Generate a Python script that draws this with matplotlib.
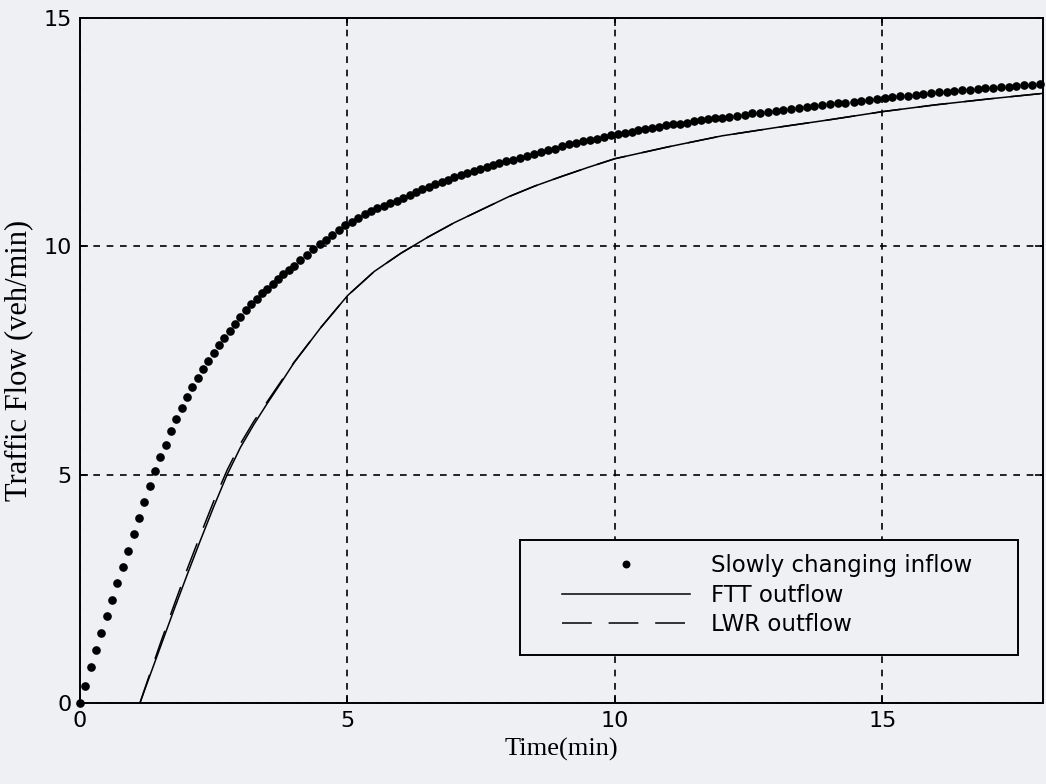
#!/usr/bin/env python3

import matplotlib
matplotlib.use('Agg')
import matplotlib.pyplot as plt
from matplotlib.patches import Rectangle

# Slowly changing inflow (dots).
inflow_time = [
    0.00, 0.10, 0.20, 0.30, 0.40, 0.50, 0.60, 0.70, 0.80, 0.90,
    1.00, 1.10, 1.20, 1.30, 1.40, 1.50, 1.60, 1.70, 1.80, 1.90,
    2.00, 2.10, 2.20, 2.30, 2.40, 2.50, 2.60, 2.70, 2.80, 2.90,
    3.00, 3.10, 3.20, 3.30, 3.40, 3.50, 3.60, 3.70, 3.80, 3.90,
    4.00,
    4.12, 4.24, 4.36, 4.48, 4.60, 4.72, 4.84, 4.96, 5.08, 5.20,
    5.32, 5.44, 5.56, 5.68, 5.80, 5.92, 6.04, 6.16, 6.28, 6.40,
    6.52, 6.64, 6.76, 6.88, 7.00, 7.12, 7.24, 7.36, 7.48, 7.60,
    7.72, 7.84, 7.96,
    8.10, 8.23, 8.36, 8.49, 8.62, 8.75, 8.88, 9.01, 9.14, 9.27,
    9.40, 9.53, 9.66, 9.79, 9.92, 10.05, 10.18, 10.31, 10.44, 10.57,
    10.70, 10.83, 10.96, 11.09, 11.22, 11.35, 11.48, 11.61, 11.74, 11.87,
    12.00,
    12.14, 12.28, 12.43, 12.57, 12.72, 12.86, 13.01, 13.15, 13.30, 13.44,
    13.59, 13.73, 13.88, 14.02, 14.17, 14.31, 14.46, 14.60, 14.75, 14.89,
    15.04, 15.18, 15.33, 15.47, 15.62, 15.76, 15.91, 16.05, 16.20, 16.34,
    16.49, 16.63, 16.78, 16.92, 17.07, 17.21, 17.36, 17.50, 17.65, 17.79,
    17.94,
]
inflow_flow = [
    0.00, 0.38, 0.78, 1.16, 1.54, 1.90, 2.26, 2.62, 2.97, 3.32,
    3.70, 4.05, 4.40, 4.76, 5.08, 5.38, 5.66, 5.95, 6.22, 6.47,
    6.70, 6.92, 7.12, 7.31, 7.49, 7.66, 7.83, 7.99, 8.15, 8.31,
    8.46, 8.60, 8.73, 8.85, 8.97, 9.07, 9.17, 9.28, 9.39, 9.48,
    9.58,
    9.70, 9.82, 9.94, 10.05, 10.15, 10.25, 10.36, 10.46, 10.54, 10.62,
    10.70, 10.77, 10.83, 10.89, 10.94, 10.99, 11.06, 11.13, 11.19, 11.25,
    11.31, 11.36, 11.41, 11.46, 11.51, 11.56, 11.60, 11.65, 11.70, 11.74,
    11.78, 11.82, 11.86,
    11.90, 11.94, 11.98, 12.02, 12.06, 12.10, 12.14, 12.19, 12.24, 12.27,
    12.30, 12.33, 12.36, 12.40, 12.43, 12.46, 12.49, 12.51, 12.54, 12.57,
    12.60, 12.62, 12.65, 12.67, 12.69, 12.71, 12.74, 12.76, 12.78, 12.80,
    12.82,
    12.84, 12.86, 12.88, 12.91, 12.93, 12.95, 12.97, 12.99, 13.01, 13.03,
    13.05, 13.07, 13.09, 13.11, 13.13, 13.15, 13.17, 13.19, 13.21, 13.23,
    13.25, 13.27, 13.29, 13.30, 13.32, 13.34, 13.35, 13.37, 13.39, 13.40,
    13.42, 13.43, 13.45, 13.46, 13.47, 13.49, 13.50, 13.51, 13.53, 13.54,
    13.55,
]

# Outflow curves (FTT solid, LWR dashed).
outflow_time = [1.12, 1.25, 1.50, 1.75, 2.00, 2.25, 2.50, 2.75, 3.00, 3.25,
                3.50, 3.75, 4.00, 4.50, 5.00, 5.50, 6.00, 6.50, 7.00, 7.50,
                8.00, 8.50, 9.00, 9.50, 10.00, 11.00, 12.00, 13.00, 14.00,
                15.00, 16.00, 17.00, 18.00]
ftt_flow = [0.00, 0.42, 1.22, 2.02, 2.80, 3.56, 4.30, 5.00, 5.60, 6.10,
            6.56, 7.00, 7.45, 8.22, 8.92, 9.45, 9.85, 10.20, 10.52, 10.80,
            11.08, 11.32, 11.53, 11.73, 11.92, 12.18, 12.42, 12.60, 12.77,
            12.95, 13.10, 13.23, 13.35]
lwr_flow = [0.00, 0.45, 1.30, 2.12, 2.92, 3.68, 4.42, 5.10, 5.68, 6.17,
            6.60, 7.03, 7.46, 8.22, 8.92, 9.45, 9.85, 10.20, 10.52, 10.80,
            11.08, 11.32, 11.53, 11.73, 11.92, 12.18, 12.42, 12.60, 12.77,
            12.95, 13.10, 13.23, 13.35]

x_ticks = [0, 5, 10, 15]
y_ticks = [0, 5, 10, 15]

BACKGROUND = '#eef0f4'


def plot_flows(ax):
    ax.plot(inflow_time, inflow_flow, linestyle = 'none', marker = 'o',
            markersize = 5.2, color = 'black', label = 'Slowly changing inflow',
            zorder = 3, clip_on = False)
    ax.plot(outflow_time, ftt_flow, color = 'black', linewidth = 1.1,
            label = 'FTT outflow', zorder = 2)
    ax.plot(outflow_time, lwr_flow, color = 'black', linewidth = 1.1,
            dashes = (19.5, 11), label = 'LWR outflow', zorder = 2)


def style_axes(ax):
    ax.set_facecolor(BACKGROUND)
    ax.set_xlim(0, 18)
    ax.set_ylim(0, 15)
    ax.set_xticks(x_ticks)
    ax.set_yticks(y_ticks)
    ax.tick_params(direction = 'in', length = 6, width = 1.2,
                   top = True, right = True, labelsize = 16, pad = 6)
    for label in ax.get_xticklabels() + ax.get_yticklabels():
        label.set_fontfamily('DejaVu Sans')

    for spine in ax.spines.values():
        spine.set_linewidth(1.4)
        spine.set_color('black')

    ax.grid(True, color = 'black', linestyle = (0, (4, 4)), linewidth = 1.2)
    ax.set_axisbelow(True)

    ax.set_xlabel('Time(min)', fontfamily = 'Liberation Serif',
                  fontsize = 19, labelpad = 5)
    ax.set_ylabel('Traffic Flow (veh/min)', fontfamily = 'Liberation Serif',
                  fontsize = 22, labelpad = 7)


def add_legend(ax):
    # Legend frame is drawn by hand: the original has wide side margins.
    frame = Rectangle((0.457, 0.070), 0.517, 0.168, transform = ax.transAxes,
                      facecolor = BACKGROUND, edgecolor = 'black',
                      linewidth = 1.4, zorder = 4)
    ax.add_patch(frame)

    leg = ax.legend(loc = 'upper left', bbox_to_anchor = (0.486, 0.238),
                    prop = {'family': 'DejaVu Sans', 'size': 16.5},
                    handlelength = 5.6, handletextpad = 0.9,
                    labelspacing = 0.3, borderpad = 0.6, borderaxespad = 0.0,
                    frameon = False, numpoints = 1, markerscale = 0.9)
    leg.set_zorder(5)


def main():
    fig = plt.figure(figsize = (10.46, 7.84), dpi = 100)
    fig.patch.set_facecolor(BACKGROUND)
    ax = fig.add_axes([0.0765, 0.1033, 0.9205, 0.8737])

    plot_flows(ax)
    style_axes(ax)
    add_legend(ax)

    fig.savefig('out.png', dpi = 100, facecolor = fig.get_facecolor())


if __name__ == "__main__":
    main()
